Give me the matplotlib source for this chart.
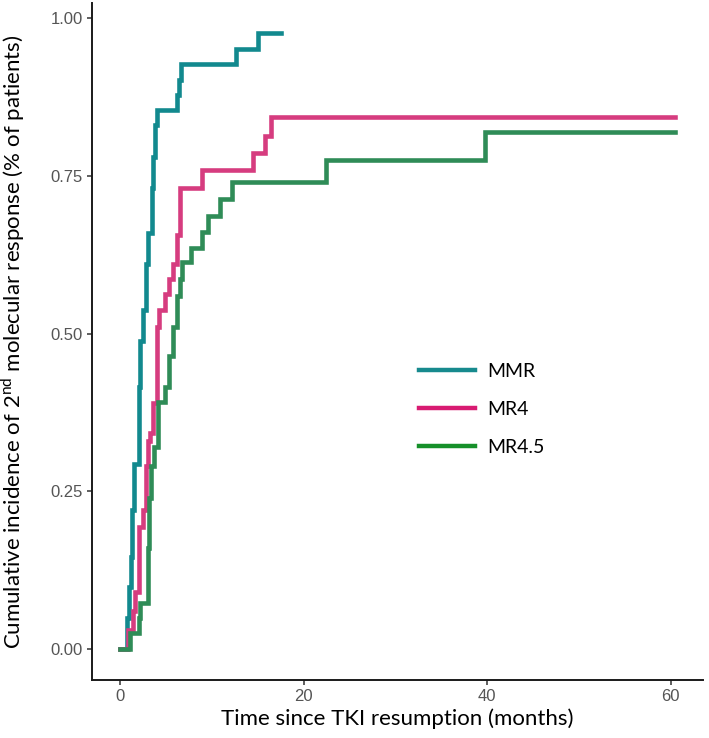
import matplotlib
matplotlib.use("Agg")
import matplotlib.pyplot as plt
from matplotlib.lines import Line2D

# 数据
mmr_t = [0, 0.8, 1.0, 1.2, 1.35, 1.55, 2.05, 2.25, 2.55, 2.85, 3.1, 3.45, 3.6, 3.8, 4.05,
         6.2, 6.45, 6.7, 12.6, 15.0, 17.5]
mmr_y = [0, 0.049, 0.098, 0.146, 0.22, 0.293, 0.415, 0.488, 0.537, 0.61, 0.66, 0.73, 0.78,
         0.83, 0.854, 0.878, 0.902, 0.927, 0.951, 0.976, 0.976]

mr4_t = [0, 0.9, 1.45, 1.7, 2.1, 2.55, 2.85, 3.1, 3.3, 3.6, 4.0, 4.3, 4.9, 5.4, 5.8, 6.2,
         6.55, 8.9, 14.5, 15.8, 16.5, 60.5]
mr4_y = [0, 0.03, 0.06, 0.09, 0.194, 0.22, 0.29, 0.33, 0.343, 0.39, 0.511, 0.538, 0.562,
         0.586, 0.61, 0.657, 0.731, 0.760, 0.787, 0.813, 0.843, 0.843]

mr45_t = [0, 1.1, 2.05, 2.2, 3.05, 3.2, 3.35, 3.7, 4.2, 4.9, 5.3, 5.8, 6.2, 6.55, 6.75,
          7.7, 8.9, 9.6, 10.9, 12.2, 22.5, 39.8, 60.5]
mr45_y = [0, 0.025, 0.049, 0.073, 0.16, 0.24, 0.29, 0.32, 0.392, 0.416, 0.464, 0.511,
          0.559, 0.586, 0.613, 0.636, 0.661, 0.687, 0.714, 0.740, 0.775, 0.82, 0.82]

labels = ["MMR", "MR4", "MR4.5"]
curve_colors = ["#12898E", "#D63C7F", "#2F8C57"]
legend_colors = ["#178A8E", "#D81B72", "#16902A"]
xticks = [0, 20, 40, 60]
yticks = [0.00, 0.25, 0.50, 0.75, 1.00]

plt.rcParams['mathtext.fontset'] = 'custom'
plt.rcParams['mathtext.rm'] = 'Lato'

fig = plt.figure(figsize=(7.09, 7.38), dpi=100)
ax = fig.add_axes([92 / 709, 1 - 680 / 738, 611 / 709, 677 / 738])

for t, y, c in zip([mmr_t, mr4_t, mr45_t], [mmr_y, mr4_y, mr45_y], curve_colors):
    ax.step(t, y, where='post', color=c, linewidth=3.3, solid_joinstyle='miter')

ax.set_xlim(-3.03, 63.5)
ax.set_ylim(-0.049, 1.024)
ax.set_xticks(xticks)
ax.set_yticks(yticks)
ax.set_xticklabels([str(v) for v in xticks])
ax.set_yticklabels(["%.2f" % v for v in yticks])

for s in ['top', 'right']:
    ax.spines[s].set_visible(False)
for s in ['left', 'bottom']:
    ax.spines[s].set_linewidth(1.4)
    ax.spines[s].set_color('#1a1a1a')
ax.tick_params(length=3.5, width=1.1, color='#333333', labelsize=12,
               labelcolor='#555555', pad=3)
for lab in ax.get_xticklabels() + ax.get_yticklabels():
    lab.set_family('Liberation Sans')

ax.set_xlabel("Time since TKI resumption (months)", family='Lato', fontsize=16)
ax.set_ylabel(r"Cumulative incidence of 2$^{\mathrm{nd}}$ molecular response (% of patients)",
              family='Lato', fontsize=16)
ax.xaxis.set_label_coords(0.5, -0.042)
ax.yaxis.set_label_coords(-0.106, 0.5)

# 图例
handles = [Line2D([0], [0], color=c, linewidth=3.2) for c in legend_colors]
ax.legend(handles, labels, loc='upper left', bbox_to_anchor=(419 / 709, 1 - 363 / 738),
          bbox_transform=fig.transFigure, frameon=False, borderpad=0, borderaxespad=0,
          handlelength=2.9, handletextpad=0.62, labelspacing=1.08,
          prop={'family': 'Lato', 'size': 14})

fig.savefig("out.png", dpi=100)
